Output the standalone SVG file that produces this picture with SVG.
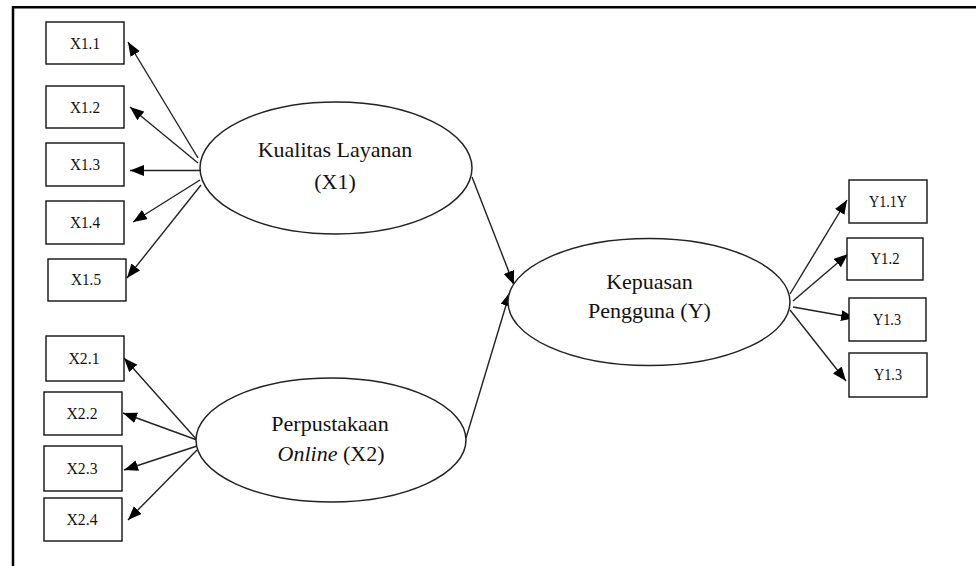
<svg xmlns="http://www.w3.org/2000/svg" width="976" height="566" viewBox="0 0 976 566">
  <style>
    .frame { stroke: #000; stroke-width: 2.5; fill: none; }
    .box { fill: #fff; stroke: #111; stroke-width: 1.4; }
    .latent { fill: #fff; stroke: #222; stroke-width: 1.5; }
    text { font-family: 'Liberation Serif', 'DejaVu Serif', serif; fill: #111; text-anchor: middle; }
    .lbl { font-size: 17px; }
    .big { font-size: 22px; }
    .edge { stroke: #222; stroke-width: 1.4; fill: none; marker-end: url(#head); }
  </style>
  <defs>
    <marker id="head" markerUnits="userSpaceOnUse" markerWidth="15" markerHeight="12" refX="14" refY="5.5" orient="auto">
      <path d="M0,0 L14,5.5 L0,11 z" fill="#000"/>
    </marker>
  </defs>
  <rect width="976" height="566" fill="#fff"/>

  <!-- partial frame: top and left edges -->
  <path class="frame" d="M13,566 L13,7.3 L976,7.3"/>

  <!-- connectors -->
  <g id="connectors">
    <line class="edge" x1="198" y1="158" x2="128" y2="42"/>
    <line class="edge" x1="198" y1="163" x2="130" y2="107"/>
    <line class="edge" x1="200" y1="170.5" x2="130" y2="170.5"/>
    <line class="edge" x1="200" y1="180" x2="133" y2="222"/>
    <line class="edge" x1="201" y1="185" x2="127" y2="278"/>

    <line class="edge" x1="197" y1="440" x2="124" y2="358"/>
    <line class="edge" x1="197" y1="440" x2="123" y2="413"/>
    <line class="edge" x1="197" y1="446" x2="124" y2="470"/>
    <line class="edge" x1="197" y1="450" x2="128" y2="520"/>

    <line class="edge" x1="472" y1="177" x2="514" y2="285"/>
    <line class="edge" x1="466" y1="438" x2="510" y2="292"/>

    <line class="edge" x1="790" y1="294" x2="847" y2="200"/>
    <line class="edge" x1="793" y1="301" x2="848" y2="254"/>
    <line class="edge" x1="793" y1="307" x2="855" y2="318"/>
    <line class="edge" x1="790" y1="310" x2="846" y2="381"/>
  </g>

  <!-- latent constructs -->
  <g id="kualitas-layanan">
    <ellipse class="latent" cx="336" cy="168" rx="136" ry="66"/>
    <text class="big" x="335" y="157">Kualitas Layanan</text>
    <text class="big" x="335" y="189">(X1)</text>
  </g>
  <g id="perpustakaan-online">
    <ellipse class="latent" cx="331" cy="440" rx="135" ry="62"/>
    <text class="big" x="330" y="431">Perpustakaan</text>
    <text class="big" x="331" y="461"><tspan font-style="italic">Online</tspan> (X2)</text>
  </g>
  <g id="kepuasan-pengguna">
    <ellipse class="latent" cx="649" cy="302" rx="141" ry="63.5"/>
    <text class="big" x="649.5" y="289">Kepuasan</text>
    <text class="big" x="649.5" y="318">Pengguna (Y)</text>
  </g>

  <!-- indicators of X1 -->
  <g id="x1-1"><rect class="box" x="46" y="22" width="78" height="42"/><text class="lbl" x="85" y="49" textLength="30" lengthAdjust="spacingAndGlyphs">X1.1</text></g>
  <g id="x1-2"><rect class="box" x="46" y="86" width="78" height="42"/><text class="lbl" x="85" y="113" textLength="30" lengthAdjust="spacingAndGlyphs">X1.2</text></g>
  <g id="x1-3"><rect class="box" x="46" y="143" width="78" height="43"/><text class="lbl" x="85" y="170" textLength="30" lengthAdjust="spacingAndGlyphs">X1.3</text></g>
  <g id="x1-4"><rect class="box" x="46" y="201" width="78" height="43"/><text class="lbl" x="85" y="228" textLength="30" lengthAdjust="spacingAndGlyphs">X1.4</text></g>
  <g id="x1-5"><rect class="box" x="48" y="259" width="78" height="42"/><text class="lbl" x="86" y="285" textLength="30" lengthAdjust="spacingAndGlyphs">X1.5</text></g>

  <!-- indicators of X2 -->
  <g id="x2-1"><rect class="box" x="46" y="336" width="78" height="45"/><text class="lbl" x="84" y="364" textLength="31" lengthAdjust="spacingAndGlyphs">X2.1</text></g>
  <g id="x2-2"><rect class="box" x="44" y="392" width="78" height="43"/><text class="lbl" x="82" y="419" textLength="31" lengthAdjust="spacingAndGlyphs">X2.2</text></g>
  <g id="x2-3"><rect class="box" x="44" y="446" width="78" height="45"/><text class="lbl" x="82" y="474" textLength="31" lengthAdjust="spacingAndGlyphs">X2.3</text></g>
  <g id="x2-4"><rect class="box" x="44" y="498" width="78" height="43"/><text class="lbl" x="82" y="525" textLength="31" lengthAdjust="spacingAndGlyphs">X2.4</text></g>

  <!-- indicators of Y -->
  <g id="y1-1"><rect class="box" x="849" y="180" width="78" height="43"/><text class="lbl" x="888" y="207" textLength="38" lengthAdjust="spacingAndGlyphs">Y1.1Y</text></g>
  <g id="y1-2"><rect class="box" x="847" y="238" width="76" height="42"/><text class="lbl" x="885" y="264" textLength="29" lengthAdjust="spacingAndGlyphs">Y1.2</text></g>
  <g id="y1-3a"><rect class="box" x="849" y="298" width="77" height="43"/><text class="lbl" x="887" y="325" textLength="28" lengthAdjust="spacingAndGlyphs">Y1.3</text></g>
  <g id="y1-3b"><rect class="box" x="849" y="353" width="78" height="44"/><text class="lbl" x="888" y="380" textLength="28" lengthAdjust="spacingAndGlyphs">Y1.3</text></g>
</svg>
